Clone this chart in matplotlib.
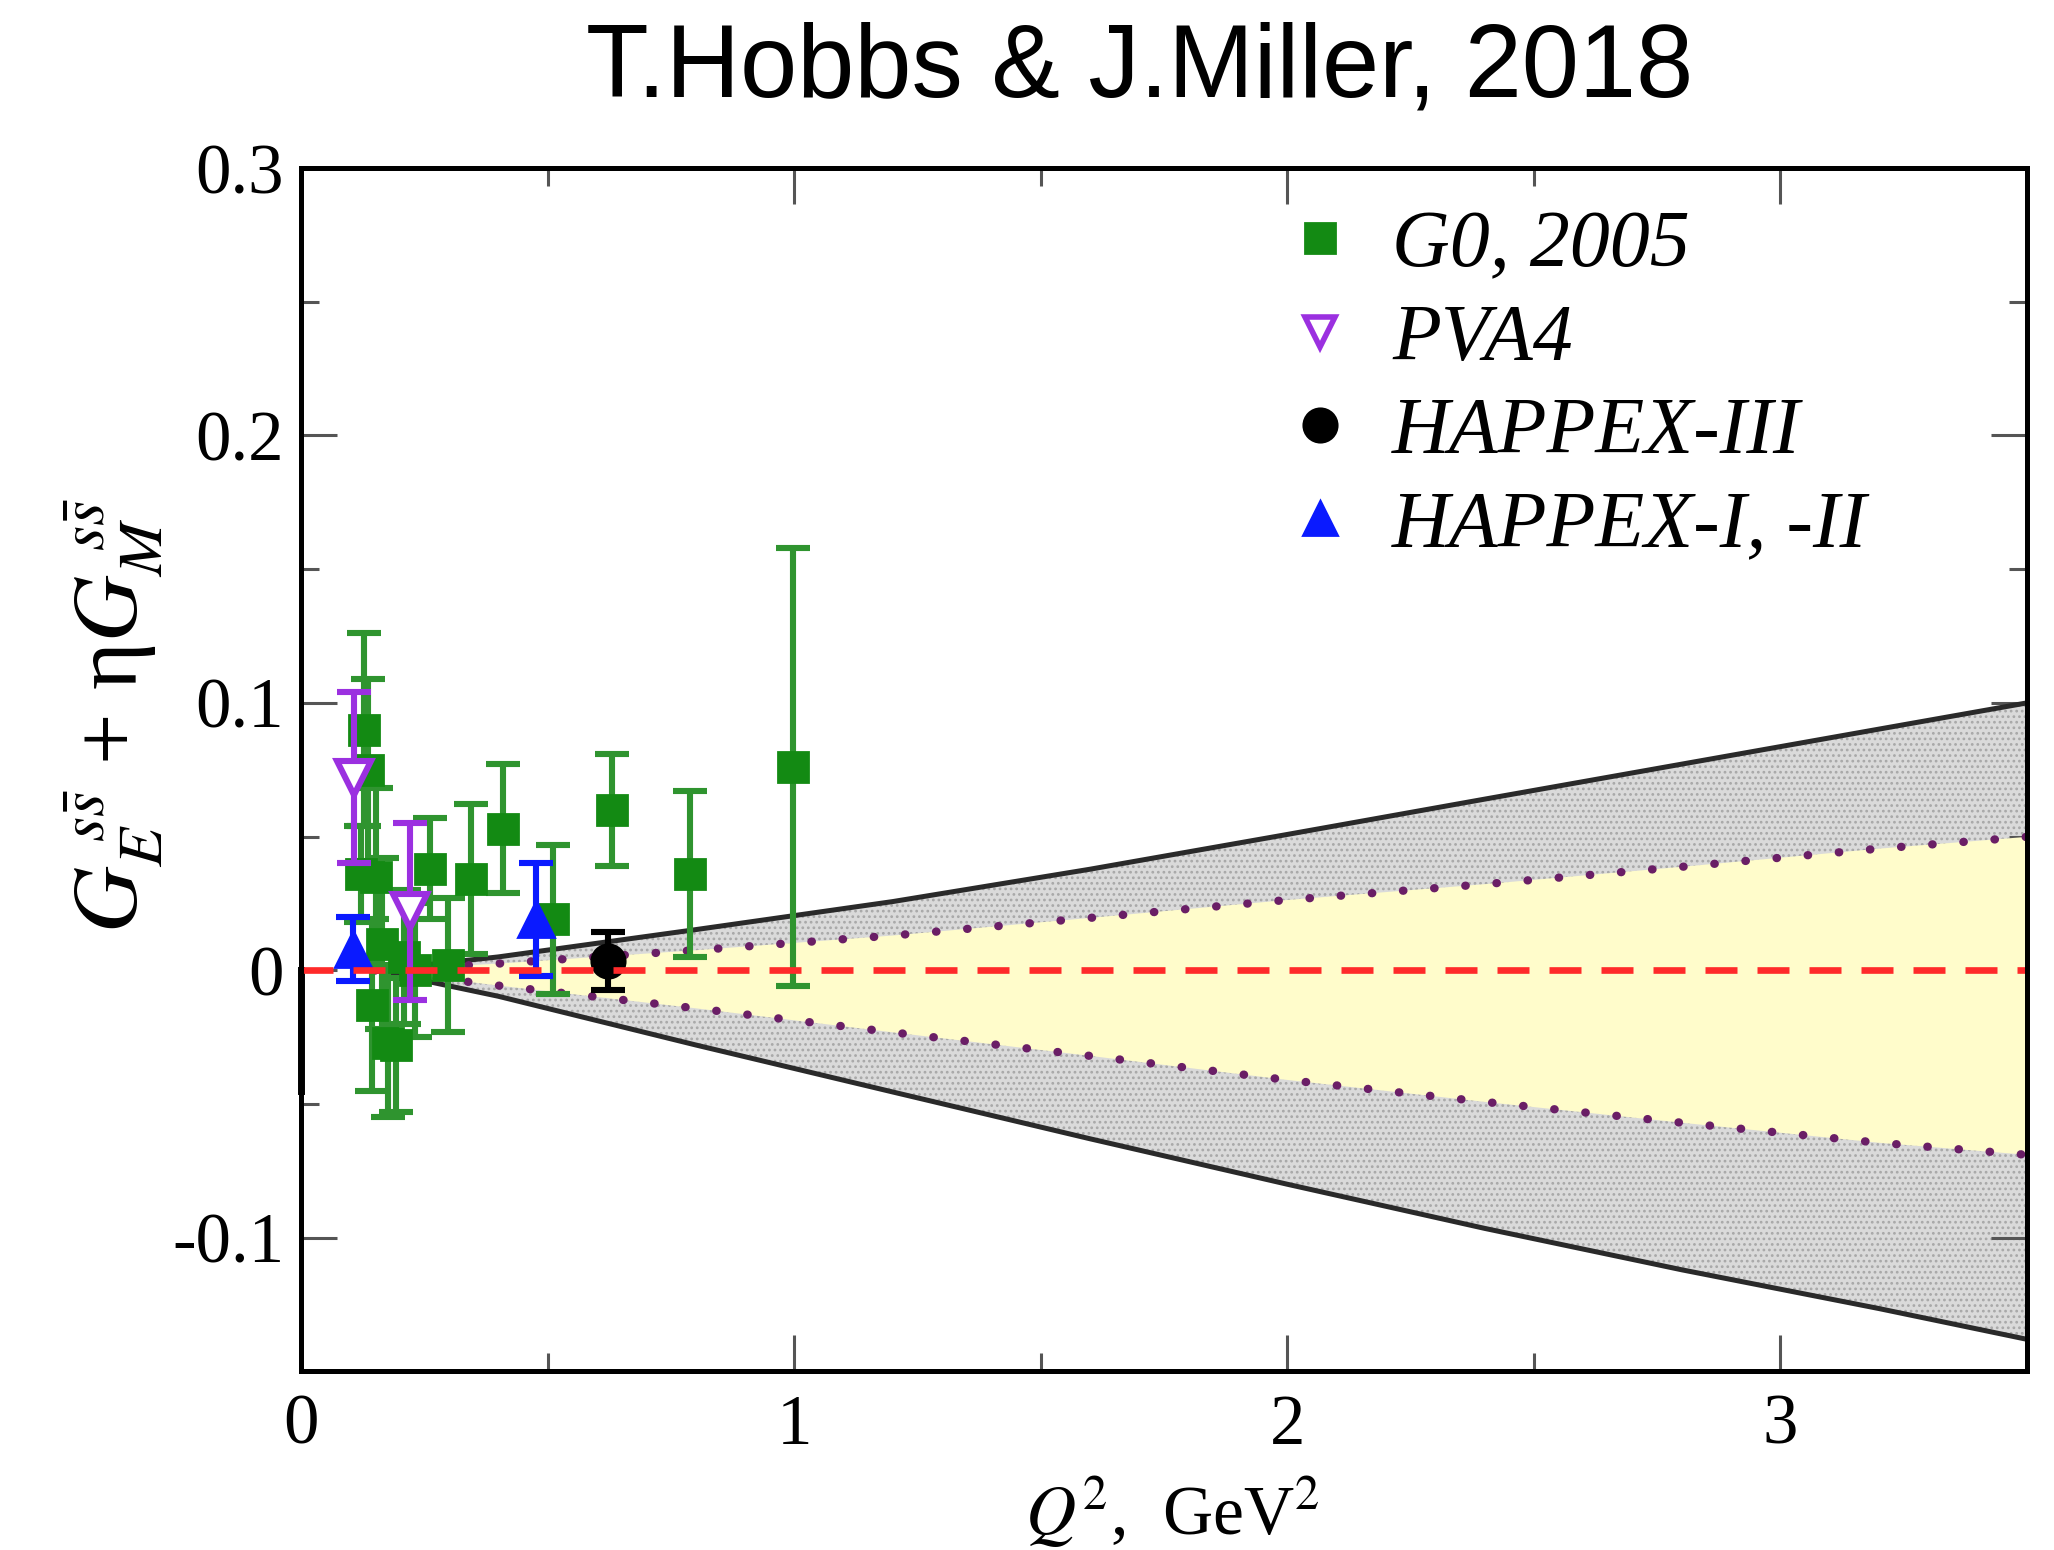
import matplotlib
matplotlib.use('Agg')
import matplotlib.pyplot as plt
from matplotlib.lines import Line2D
from matplotlib.ticker import MultipleLocator, FixedLocator, FixedFormatter

plt.rcParams['axes.unicode_minus'] = False
plt.rcParams['mathtext.fontset'] = 'stix'
plt.rcParams['hatch.linewidth'] = 0.6
plt.rcParams['hatch.color'] = '#a8a8a8'

# ---------------- data ----------------
g0_q2 = [0.122, 0.128, 0.136, 0.144, 0.153, 0.164, 0.177, 0.192, 0.210, 0.232,
         0.262, 0.299, 0.344, 0.410, 0.511, 0.631, 0.788, 0.997]
g0_val = [0.036, 0.090, 0.075, -0.013, 0.035, 0.010, -0.027, -0.028, 0.005, 0.000,
          0.038, 0.002, 0.034, 0.053, 0.019, 0.060, 0.036, 0.076]
g0_err = [0.018, 0.036, 0.034, 0.032, 0.033, 0.032, 0.028, 0.025, 0.025, 0.025,
          0.019, 0.025, 0.028, 0.024, 0.028, 0.021, 0.031, 0.082]

pva4_q2 = [0.108, 0.221]
pva4_val = [0.072, 0.022]
pva4_err = [0.032, 0.033]

happex3_q2 = [0.622]
happex3_val = [0.0035]
happex3_err = [0.011]

happex12_q2 = [0.106, 0.477]
happex12_val = [0.008, 0.019]
happex12_err = [0.012, 0.021]

band_q2 = [0.15, 0.4, 0.8, 1.2, 1.6, 2.0, 2.4, 2.8, 3.2, 3.5]
outer_upper = [0.0, 0.005, 0.0152, 0.0257, 0.0378, 0.0508, 0.0640, 0.0771, 0.0902, 0.100]
outer_lower = [0.0, -0.0097, -0.0279, -0.0455, -0.0630, -0.0800, -0.0965, -0.1120, -0.1265, -0.138]
inner_upper = [0.0, 0.0025, 0.0075, 0.0130, 0.0196, 0.0263, 0.0322, 0.0387, 0.0455, 0.0499]
inner_lower = [0.0, -0.0057, -0.0142, -0.0232, -0.0320, -0.0410, -0.0492, -0.0570, -0.0645, -0.069]

edge_q2 = [0.0, 0.0]
edge_val = [0.0, -0.045]

zero_q2 = [0.0, 3.5]
zero_val = [0.0, 0.0]

legend_labels = ['G0, 2005', 'PVA4', 'HAPPEX-III', 'HAPPEX-I, -II']
x_ticks = [0, 1, 2, 3]
y_ticks = [-0.1, 0.0, 0.1, 0.2, 0.3]
y_ticklabels = ['-0.1', '0', '0.1', '0.2', '0.3']

# ---------------- figure ----------------
GREEN = '#138a13'
GREEN_BAR = '#2f942f'
PURPLE = '#9b30e0'
BLUE = '#0a1aff'
DOT = '#6a1e66'

fig = plt.figure(figsize=(10.27, 7.75), dpi=200)
ax = fig.add_axes([0.1465, 0.1152, 0.8404, 0.7764])

ax.fill_between(band_q2, outer_lower, outer_upper, facecolor='#dadada',
                hatch='......', edgecolor='#a8a8a8', linewidth=0, zorder=1)
ax.fill_between(band_q2, inner_lower, inner_upper, facecolor='#fffccb',
                edgecolor='none', linewidth=0, zorder=2)
ax.plot(band_q2, outer_upper, color='#2a2a2a', lw=1.8, zorder=3)
ax.plot(band_q2, outer_lower, color='#2a2a2a', lw=1.8, zorder=3)
ax.plot(band_q2, inner_upper, color=DOT, lw=3.0, ls=(0, (0.05, 3.7)),
        dash_capstyle='round', zorder=3)
ax.plot(band_q2, inner_lower, color=DOT, lw=3.0, ls=(0, (0.05, 3.7)),
        dash_capstyle='round', zorder=3)
ax.plot(edge_q2, edge_val, color='black', lw=2.5, zorder=3, clip_on=False)

ax.errorbar(g0_q2, g0_val, yerr=g0_err, fmt='s', ms=10.5, color=GREEN,
            mfc=GREEN, mec=GREEN, ecolor=GREEN_BAR, elinewidth=2.2,
            capsize=6, capthick=2.2, zorder=5)
ax.errorbar(happex12_q2, happex12_val, yerr=happex12_err, fmt='^', ms=13,
            color=BLUE, mfc=BLUE, mec=BLUE, ecolor=BLUE, elinewidth=2.2,
            capsize=6, capthick=2.2, zorder=6)
ax.errorbar(pva4_q2, pva4_val, yerr=pva4_err, fmt='v', ms=12,
            color=PURPLE, mfc='white', mec=PURPLE, mew=2.2, ecolor=PURPLE,
            elinewidth=2.2, capsize=6, capthick=2.2, zorder=6)
ax.errorbar(happex3_q2, happex3_val, yerr=happex3_err, fmt='o', ms=12,
            color='black', ecolor='black', elinewidth=2.2, capsize=6,
            capthick=2.2, zorder=6)

ax.plot(zero_q2, zero_val, color='#ff2a2a', lw=2.4, ls=(0, (4.8, 3.0)), zorder=7)

ax.set_xlim(0, 3.5)
ax.set_ylim(-0.15, 0.3)

ax.xaxis.set_major_locator(FixedLocator(x_ticks))
ax.xaxis.set_minor_locator(MultipleLocator(0.5))
ax.yaxis.set_major_locator(FixedLocator(y_ticks))
ax.yaxis.set_major_formatter(FixedFormatter(y_ticklabels))
ax.yaxis.set_minor_locator(MultipleLocator(0.05))

ax.tick_params(which='both', direction='in', top=True, right=True,
               color='#555555', width=1.1)
ax.tick_params(which='major', length=13)
ax.tick_params(which='minor', length=6.5)
ax.tick_params(axis='x', which='major', pad=8, labelsize=25.5)
ax.tick_params(axis='y', which='major', pad=6, labelsize=25.5)
for lab in ax.get_xticklabels() + ax.get_yticklabels():
    lab.set_family('Liberation Serif')
for sp in ax.spines.values():
    sp.set_linewidth(1.8)
    sp.set_zorder(8)

ax.set_xlabel(r'$Q^2$,  GeV$^2$', fontsize=25, family='Liberation Serif')
ax.xaxis.set_label_coords(0.505, -0.086)
ax.xaxis.label.set_va('top')
ax.set_ylabel(r'$G_E^{\ s\bar{s}}$ + η$G_M^{\ s\bar{s}}$', fontsize=33,
              family='Liberation Serif')
ax.yaxis.set_label_coords(-0.079, 0.545)

handles = [
    Line2D([], [], ls='none', marker='s', ms=11, color=GREEN),
    Line2D([], [], ls='none', marker='v', ms=11, mfc='white', mec=PURPLE, mew=2),
    Line2D([], [], ls='none', marker='o', ms=12, color='black'),
    Line2D([], [], ls='none', marker='^', ms=12, color=BLUE),
]
leg = ax.legend(handles, legend_labels, loc='upper left',
                bbox_to_anchor=(0.572, 0.965), frameon=False,
                prop={'family': 'Liberation Serif', 'style': 'italic', 'size': 28.8},
                handlelength=0.8, handletextpad=0.5, labelspacing=0.255,
                borderpad=0, borderaxespad=0)

fig.text(0.555, 0.955, 'T.Hobbs & J.Miller, 2018', ha='center', va='center',
         fontsize=37, family='Liberation Sans')

fig.savefig('out.png', dpi=200)
